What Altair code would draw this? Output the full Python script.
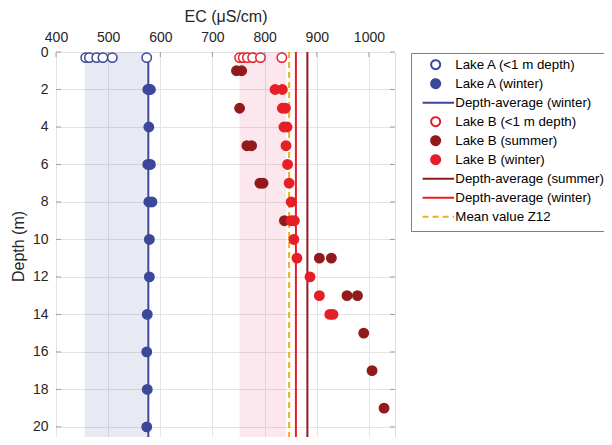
import altair as alt
import pandas as pd

FONT = "Liberation Sans"
BLUE = "#3B4799"
RED = "#E61E26"
MAROON = "#921A1C"
ORANGE = "#EDB120"
FRAME = "#7f7f7f"

# ---------------- data ----------------
# Lake A
a_top_ec = [457, 464, 478, 490, 508, 574]
a_top_depth = [0.3, 0.3, 0.3, 0.3, 0.3, 0.3]
a_win_ec = [576, 581, 578, 576, 581, 578, 584, 579, 579, 575, 574, 575, 574]
a_win_depth = [2, 2, 4, 6, 6, 8, 8, 10, 12, 14, 16, 18, 20]
# Lake B
b_top_ec = [752, 759, 767, 777, 792, 833]
b_top_depth = [0.3, 0.3, 0.3, 0.3, 0.3, 0.3]
b_sum_ec = [746, 756, 752, 766, 775, 791, 797, 838, 905, 928, 958, 978, 990, 1006, 1029]
b_sum_depth = [1, 1, 3, 5, 5, 7, 7, 9, 11, 11, 13, 13, 15, 17, 19]
b_win_ec = [820, 834, 834, 840, 837, 843, 841, 844, 847, 851, 851, 857, 856, 862, 887, 905, 925, 931]
b_win_depth = [2, 2, 3, 3, 4, 4, 5, 6, 7, 8, 9, 9, 10, 11, 12, 13, 14, 14]

DMAX = 20.7

# depth-average / mean lines
line_series = ["Depth-average (winter)", "Depth-average (summer)",
               "Depth-average (winter) ", "Mean value Z12"]
line_ec = [577, 882, 860, 847]
line_top = [0.3, 0, 0, 0]
line_bottom = [DMAX, DMAX, DMAX, DMAX]

# shaded ranges
band_lo = [455, 752]
band_hi = [575, 841]
band_top = [0, 0]
band_bottom = [DMAX, DMAX]
band_color = [BLUE, "#E03C6E"]

# legend entries (order as in the reference)
series = ["Lake A (<1 m depth)", "Lake A (winter)", "Depth-average (winter)",
          "Lake B (<1 m depth)", "Lake B (summer)", "Lake B (winter)",
          "Depth-average (summer)", "Depth-average (winter) ", "Mean value Z12"]
LINE = "M0,-1M0,1M-2.9,0H4.1"
stroke_range = [BLUE, BLUE, BLUE, RED, MAROON, RED, MAROON, RED, ORANGE]
fill_range = ["white", BLUE, "transparent", "white", MAROON, RED,
              "transparent", "transparent", "transparent"]
shape_range = ["circle", "circle", LINE, "circle", "circle", "circle", LINE, LINE, LINE]
dash_range = [[1, 0]] * 8 + [[6, 4]]

x_ticks = [400, 500, 600, 700, 800, 900, 1000]
y_ticks = [0, 2, 4, 6, 8, 10, 12, 14, 16, 18, 20]

# ---------------- tables ----------------
pts = pd.concat([
    pd.DataFrame({"ec": a_win_ec, "depth": a_win_depth, "series": "Lake A (winter)"}),
    pd.DataFrame({"ec": b_sum_ec, "depth": b_sum_depth, "series": "Lake B (summer)"}),
    pd.DataFrame({"ec": b_win_ec, "depth": b_win_depth, "series": "Lake B (winter)"}),
    pd.DataFrame({"ec": a_top_ec, "depth": a_top_depth, "series": "Lake A (<1 m depth)"}),
    pd.DataFrame({"ec": b_top_ec, "depth": b_top_depth, "series": "Lake B (<1 m depth)"}),
], ignore_index=True)
lines = pd.DataFrame({"series": line_series, "ec": line_ec, "d0": line_top, "d1": line_bottom})
bands = pd.DataFrame({"lo": band_lo, "hi": band_hi, "d0": band_top, "d1": band_bottom, "col": band_color})
xt = pd.DataFrame({"v": x_ticks})
yt = pd.DataFrame({"v": y_ticks})

W, H = 339, 388
xscale = alt.Scale(domain=[400, 1050], nice=False, zero=False)
yscale = alt.Scale(domain=[0, DMAX], reverse=True, nice=False, zero=False)

LEG = alt.Legend(title=None, orient="none", legendX=355, legendY=1,
                 fillColor="white", strokeColor=FRAME, padding=5,
                 labelFont=FONT, labelFontSize=13.3, labelColor="black",
                 symbolSize=81, symbolStrokeWidth=2, rowPadding=1,
                 symbolOffset=13, labelOffset=13, labelLimit=300, cornerRadius=0)

x_axis = alt.Axis(orient="top", values=x_ticks, format="d", labelFlush=False,
                  grid=True, gridColor="#e4e4e4",
                  domain=False, ticks=False, labelFont=FONT, labelFontSize=14,
                  labelColor="#262626", labelPadding=8, title="EC (μS/cm)",
                  titleFont=FONT, titleFontSize=16, titleFontWeight="normal",
                  titleColor="#262626", titlePadding=6)
y_axis = alt.Axis(orient="left", values=y_ticks, labelFlush=False,
                  grid=True, gridColor="#e4e4e4",
                  domain=False, ticks=False, labelFont=FONT, labelFontSize=14,
                  labelColor="#262626", labelPadding=8, title="Depth (m)",
                  titleFont=FONT, titleFontSize=16, titleFontWeight="normal",
                  titleColor="#262626", titlePadding=6)

band_layer = alt.Chart(bands).mark_rect(opacity=0.12).encode(
    x=alt.X("lo:Q", scale=xscale, axis=x_axis),
    x2="hi:Q",
    y=alt.Y("d0:Q", scale=yscale, axis=y_axis),
    y2="d1:Q",
    color=alt.Color("col:N", scale=None, legend=None),
)

rule_layer = alt.Chart(lines).mark_rule(strokeWidth=2).encode(
    x=alt.X("ec:Q", scale=xscale, axis=x_axis),
    y=alt.Y("d0:Q", scale=yscale, axis=y_axis),
    y2="d1:Q",
    stroke=alt.Stroke("series:N", scale=alt.Scale(domain=series, range=stroke_range), legend=LEG),
    strokeDash=alt.StrokeDash("series:N", scale=alt.Scale(domain=series, range=dash_range), legend=LEG),
)

point_layer = alt.Chart(pts).mark_point(size=88, strokeWidth=1.5, opacity=1).encode(
    x=alt.X("ec:Q", scale=xscale, axis=x_axis),
    y=alt.Y("depth:Q", scale=yscale, axis=y_axis),
    stroke=alt.Stroke("series:N", scale=alt.Scale(domain=series, range=stroke_range), legend=LEG),
    fill=alt.Fill("series:N", scale=alt.Scale(domain=series, range=fill_range), legend=LEG),
    shape=alt.Shape("series:N", scale=alt.Scale(domain=series, range=shape_range), legend=LEG),
)

tick_top = alt.Chart(xt).mark_tick(size=5, thickness=1, color=FRAME).encode(
    x=alt.X("v:Q", scale=xscale, axis=x_axis), y=alt.value(2.5))
tick_left = alt.Chart(yt).mark_tick(size=5, thickness=1, color=FRAME).encode(
    y=alt.Y("v:Q", scale=yscale, axis=y_axis), x=alt.value(2.5))
tick_right = alt.Chart(yt).mark_tick(size=5, thickness=1, color=FRAME).encode(
    y=alt.Y("v:Q", scale=yscale, axis=y_axis), x=alt.value(W - 2.5))

chart = alt.layer(
    band_layer, rule_layer, point_layer, tick_top, tick_left, tick_right
).properties(
    width=W, height=H,
    autosize=alt.AutoSizeParams(type="none"),
    padding={"left": 48, "top": 44, "right": 209, "bottom": -3},
).configure_view(stroke=FRAME, strokeWidth=1).configure(font=FONT)

chart.save("out.html", embed_options={"renderer": "svg", "actions": False})
